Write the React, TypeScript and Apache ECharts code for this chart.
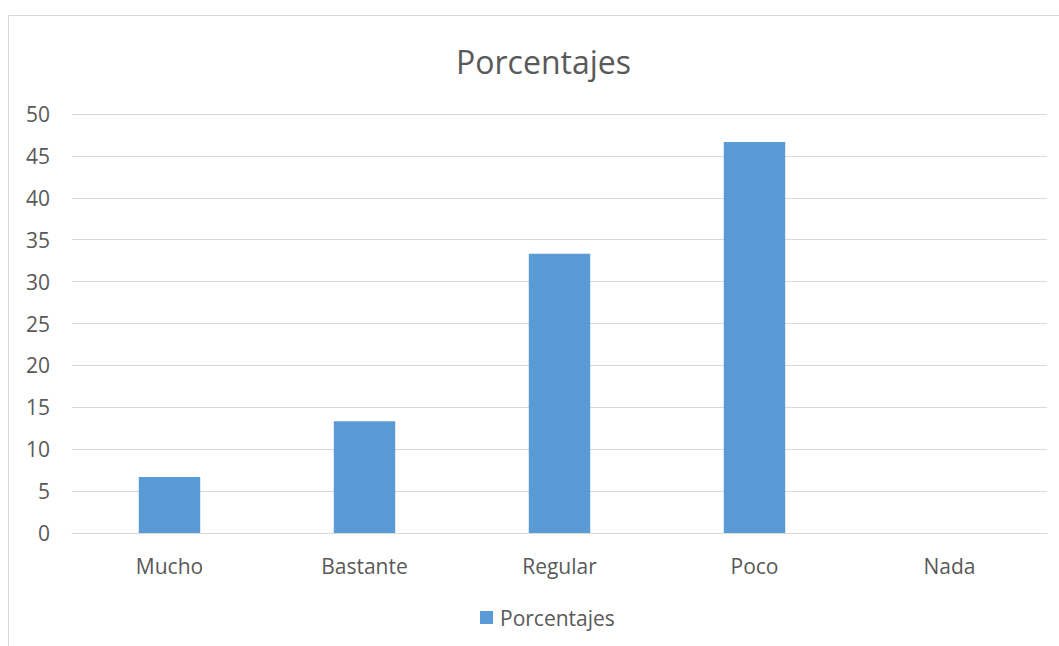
import React, { useEffect, useRef } from "react";
import * as echarts from "echarts";

const categories = ["Mucho", "Bastante", "Regular", "Poco", "Nada"];
const values = [6.67, 13.33, 33.33, 46.67, 0];
const seriesName = "Porcentajes";
const titleText = "Porcentajes";

const FONT = "'Open Sans', sans-serif";
const TEXT = "#595959";

export default function App() {
  const ref = useRef<HTMLDivElement>(null);
  useEffect(() => {
    if (!ref.current) return;
    const chart = echarts.init(ref.current, undefined, { renderer: "svg" });
    chart.setOption({
      animation: false,
      backgroundColor: "#ffffff",
      textStyle: { fontFamily: FONT },
      graphic: [
        {
          type: "rect",
          shape: { x: 8.5, y: 15.5, width: 1100, height: 700 },
          style: { fill: "none", stroke: "#D9D9D9", lineWidth: 1 },
          silent: true,
        },
      ],
      title: {
        text: titleText,
        left: 451,
        top: 40,
        textStyle: { fontFamily: FONT, fontSize: 32, fontWeight: "normal", color: TEXT },
      },
      legend: {
        bottom: 13,
        left: 475,
        itemWidth: 13,
        itemHeight: 13,
        icon: "rect",
        itemGap: 6,
        textStyle: { fontFamily: FONT, fontSize: 21, color: TEXT, padding: [0, 0, 0, 2] },
        data: [seriesName],
      },
      grid: { left: 72, right: 12, top: 114, bottom: 113, containLabel: false },
      xAxis: {
        type: "category",
        data: categories,
        axisLine: { lineStyle: { color: "#D9D9D9", width: 1 } },
        axisTick: { show: false },
        axisLabel: { color: TEXT, fontSize: 21, fontFamily: FONT, margin: 22 },
      },
      yAxis: {
        type: "value",
        min: 0,
        max: 50,
        interval: 5,
        axisLine: { show: false },
        axisTick: { show: false },
        splitLine: { lineStyle: { color: "#D9D9D9", width: 1 } },
        axisLabel: { color: TEXT, fontSize: 21, fontFamily: FONT, margin: 22 },
      },
      series: [
        {
          name: seriesName,
          type: "bar",
          data: values,
          barWidth: "31.5%",
          itemStyle: { color: "#5B9BD5" },
        },
      ],
    });
    return () => chart.dispose();
  }, []);
  return (
    <div
      ref={ref}
      style={{ position: "absolute", left: 0, top: 0, width: 1059, height: 646 }}
    />
  );
}
